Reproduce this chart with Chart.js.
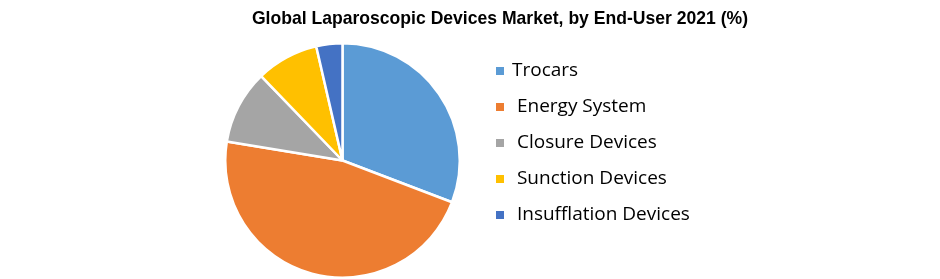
<!DOCTYPE html>
<html lang="en">
<head>
    <meta charset="UTF-8">
    <title>Global Laparoscopic Devices Market</title>
    <script src="https://cdn.jsdelivr.net/npm/chart.js"></script>
    <style>
        body { margin: 0; padding: 0; background: #ffffff; }
        #wrap { width: 940px; height: 279px; position: relative; }
    </style>
</head>
<body>
    <div id="wrap"><canvas id="chart"></canvas></div>

    <script>
        const chartTitle = 'Global Laparoscopic Devices Market, by End-User 2021 (%)';
        const labels = ['Trocars', ' Energy System', ' Closure Devices', ' Sunction Devices', ' Insufflation Devices'];
        const shares = [30.8, 46.8, 10.2, 8.6, 3.6];
        const colors = ['#5B9BD5', '#ED7D31', '#A5A5A5', '#FFC000', '#4472C4'];

        // title + legend drawn by hand so the pie can sit left of them
        const sidePlugin = {
            id: 'side',
            afterDraw(chart) {
                const ctx = chart.ctx;
                ctx.save();
                ctx.fillStyle = '#000';
                ctx.textBaseline = 'middle';
                ctx.textAlign = 'center';
                ctx.font = 'bold 19px "Liberation Sans", sans-serif';
                // squeeze a little, the original face is narrower
                ctx.translate(500, 19);
                ctx.scale(0.925, 1);
                ctx.fillText(chartTitle, 0, 0);
                ctx.restore();

                ctx.save();
                ctx.textBaseline = 'middle';
                ctx.textAlign = 'left';
                ctx.font = '19px "Open Sans", sans-serif';
                chart.data.labels.forEach((lab, i) => {
                    const y = 71 + i * 36;
                    ctx.fillStyle = chart.data.datasets[0].backgroundColor[i];
                    ctx.fillRect(496, y - 4, 8, 8);
                    ctx.fillStyle = '#000';
                    ctx.fillText(lab, 512, y);
                });
                ctx.restore();
            }
        };

        new Chart(document.getElementById('chart'), {
            type: 'pie',
            data: {
                labels: labels,
                datasets: [{
                    data: shares,
                    backgroundColor: colors,
                    borderColor: '#ffffff',
                    borderWidth: 2.5
                }]
            },
            options: {
                responsive: true,
                maintainAspectRatio: false,
                animation: false,
                layout: { padding: { left: 224, right: 479, top: 42, bottom: 0 } },
                plugins: {
                    legend: { display: false },
                    title: { display: false },
                    tooltip: { enabled: false }
                }
            },
            plugins: [sidePlugin]
        });
    </script>
</body>
</html>
